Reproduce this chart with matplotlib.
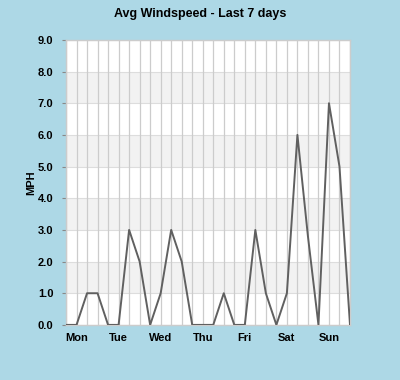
import matplotlib
matplotlib.use("Agg")
import matplotlib.pyplot as plt
import numpy as np

plt.rcParams['font.family'] = ['Liberation Sans', 'DejaVu Sans']

title = "Avg Windspeed - Last 7 days"
ylabel = "MPH"
day_labels = ["Mon", "Tue", "Wed", "Thu", "Fri", "Sat", "Sun"]
day_positions = [1, 5, 9, 13, 17, 21, 25]
windspeed = [0, 0, 1, 1, 0, 0, 3, 2, 0, 1, 3, 2, 0, 0,
             0, 1, 0, 0, 3, 1, 0, 1, 6, 2.8, 0, 7, 5, 0]
y_ticks = [0, 1, 2, 3, 4, 5, 6, 7, 8, 9]

bg = "#ADD8E6"
fig = plt.figure(figsize=(4.0, 3.8), dpi=100, facecolor=bg)
ax = fig.add_axes([0.165, 0.145, 0.71, 0.75])
ax.set_facecolor("white")

x = np.arange(len(windspeed))
ax.set_xlim(0, len(windspeed) - 1)
ax.set_ylim(0, 9)

# alternating bands
for lo in range(1, 9, 2):
    ax.axhspan(lo, lo + 1, color="#f2f2f2", zorder=0, lw=0)
for yv in y_ticks:
    ax.axhline(yv, color="#dddddd", lw=0.8, zorder=1)
for xv in x:
    ax.axvline(xv, color="#cccccc", lw=0.9, zorder=1)

ax.plot(x, windspeed, color="#606060", lw=1.4, zorder=3)

ax.set_yticks(y_ticks)
ax.set_yticklabels([f"{v:.1f}" for v in y_ticks], fontsize=8, fontweight="bold")
ax.set_xticks(day_positions)
ax.set_xticklabels(day_labels, fontsize=8, fontweight="bold")
ax.tick_params(axis="x", length=0, pad=6)
ax.tick_params(axis="y", length=3, color="#888888", pad=6)

for s in ax.spines.values():
    s.set_color("#cccccc")
    s.set_linewidth(1)

ax.set_ylabel(ylabel, fontsize=8, fontweight="bold")
ax.yaxis.set_label_coords(-0.105, 0.5)
fig.suptitle(title, fontsize=9, fontweight="bold", y=0.978)

fig.savefig("out.png", dpi=100, facecolor=bg)
